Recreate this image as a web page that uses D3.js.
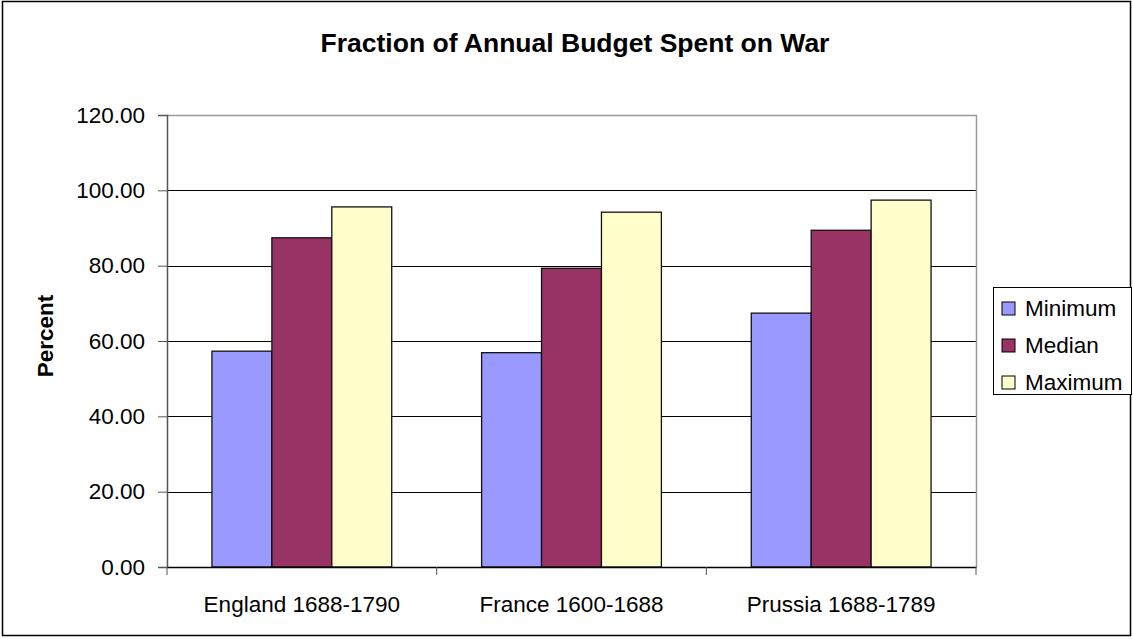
<!DOCTYPE html>
<html>
<head>
<meta charset="utf-8">
<script src="https://cdn.jsdelivr.net/npm/d3@7"></script>
<style>
  body { margin: 0; background: #fff; }
  svg text { font-family: "Liberation Sans", Arial, sans-serif; fill: #000; }
</style>
</head>
<body>
<svg id="chart" width="1133" height="639"></svg>
<script>
// data
const categories = ["England 1688-1790", "France 1600-1688", "Prussia 1688-1789"]
const seriesNames = ["Minimum", "Median", "Maximum"]
const minimum = [57.3, 56.9, 67.4]
const median = [87.4, 79.3, 89.4]
const maximum = [95.6, 94.2, 97.4]
const yTicks = [0, 20, 40, 60, 80, 100, 120]

const seriesValues = [minimum, median, maximum]
const colors = ["#9999ff", "#993366", "#ffffcc"]

const svg = d3.select("#chart")
const plot = { left: 167, right: 976, top: 115, bottom: 567 }
const fontSize = 22.5

// outer frame
svg.append("rect")
  .attr("x", 2.5).attr("y", 1.5)
  .attr("width", 1128).attr("height", 634)
  .attr("fill", "#fff").attr("stroke", "#000").attr("stroke-width", 1.5)

const x0 = d3.scaleBand()
  .domain(categories)
  .range([plot.left, plot.right])

// bars fill 3 of 4.5 parts of each category (gap of 150%)
const gap = x0.bandwidth() / 4.5 * 1.5
const x1 = d3.scaleBand()
  .domain(seriesNames)
  .range([gap / 2, x0.bandwidth() - gap / 2])

const y = d3.scaleLinear()
  .domain([0, 120])
  .range([plot.bottom, plot.top])

// grid
svg.append("g")
  .selectAll("line")
  .data(yTicks.filter(d => d > 0 && d < 120))
  .enter().append("line")
  .attr("x1", plot.left).attr("x2", plot.right)
  .attr("y1", d => Math.round(y(d)) + 0.5).attr("y2", d => Math.round(y(d)) + 0.5)
  .attr("stroke", "#000").attr("stroke-width", 1)

// plot border top / right
svg.append("path")
  .attr("d", `M${plot.left},${plot.top + 0.5}H${plot.right + 0.5}V${plot.bottom}`)
  .attr("fill", "none").attr("stroke", "#999").attr("stroke-width", 1.5)

// bars
const groups = svg.append("g")
  .selectAll("g")
  .data(categories)
  .enter().append("g")
  .attr("transform", d => `translate(${x0(d)},0)`)

groups.selectAll("rect")
  .data((c, i) => seriesNames.map((s, j) => ({ s, v: seriesValues[j][i], j })))
  .enter().append("rect")
  .attr("x", d => x1(d.s))
  .attr("y", d => y(d.v))
  .attr("width", x1.bandwidth())
  .attr("height", d => y(0) - y(d.v))
  .attr("fill", d => colors[d.j])
  .attr("stroke", "#111").attr("stroke-width", 1.3)

// y axis
const yAxis = svg.append("g")
  .attr("transform", `translate(${plot.left},0)`)
  .call(d3.axisLeft(y).tickValues(yTicks).tickSize(9).tickPadding(13).tickFormat(d3.format(".2f")))
yAxis.select(".domain").attr("stroke", "#555").attr("stroke-width", 1.5)
yAxis.selectAll(".tick line").attr("stroke", "#555")
yAxis.selectAll("text").attr("font-size", fontSize).attr("font-family", "Liberation Sans, Arial, sans-serif")

// x axis
const xAxis = svg.append("g")
  .attr("transform", `translate(0,${plot.bottom})`)
  .call(d3.axisBottom(x0).tickSize(0).tickPadding(29))
xAxis.select(".domain").attr("stroke", "#000").attr("stroke-width", 1.5)
xAxis.selectAll("text").attr("font-size", fontSize).attr("font-family", "Liberation Sans, Arial, sans-serif")
// category boundary ticks
xAxis.selectAll("line.sep")
  .data(categories.concat(["end"]))
  .enter().append("line")
  .attr("class", "sep")
  .attr("x1", (d, i) => i < categories.length ? x0(d) : plot.right)
  .attr("x2", (d, i) => i < categories.length ? x0(d) : plot.right)
  .attr("y1", 0).attr("y2", 8)
  .attr("stroke", "#555")

// title
svg.append("text")
  .attr("x", 575).attr("y", 52)
  .attr("text-anchor", "middle")
  .attr("font-size", 26.5).attr("font-weight", "bold")
  .text("Fraction of Annual Budget Spent on War")

// y label
svg.append("text")
  .attr("transform", "translate(53,336) rotate(-90)")
  .attr("text-anchor", "middle")
  .attr("font-size", fontSize).attr("font-weight", "bold")
  .text("Percent")

// legend
const legend = svg.append("g").attr("transform", "translate(993,287)")
legend.append("rect")
  .attr("x", 0.5).attr("y", 0.5).attr("width", 138).attr("height", 107)
  .attr("fill", "#fff").attr("stroke", "#000")
const item = legend.selectAll("g.item")
  .data(seriesNames)
  .enter().append("g")
  .attr("class", "item")
  .attr("transform", (d, i) => `translate(0,${22 + i * 37})`)
item.append("rect")
  .attr("x", 9).attr("y", -7).attr("width", 13).attr("height", 13)
  .attr("fill", (d, i) => colors[i]).attr("stroke", "#000")
item.append("text")
  .attr("x", 32).attr("y", 7)
  .attr("font-size", fontSize)
  .text(d => d)
</script>
</body>
</html>
